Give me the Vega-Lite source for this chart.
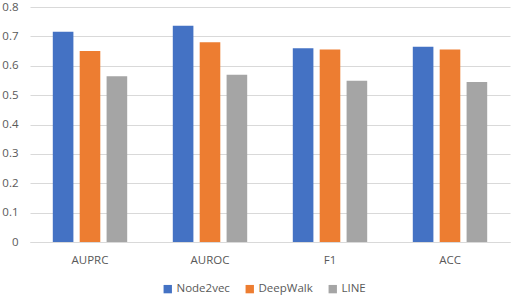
{
  "$schema": "https://vega.github.io/schema/vega-lite/v6.json",
  "autosize": "none",
  "width": 480,
  "height": 235,
  "padding": {"left": 30, "top": 7, "right": 2, "bottom": 56},
  "background": "white",
  "data": {
    "values": [
      {"metric": "AUPRC", "method": "Node2vec", "value": 0.716},
      {"metric": "AUPRC", "method": "DeepWalk", "value": 0.650},
      {"metric": "AUPRC", "method": "LINE", "value": 0.564},
      {"metric": "AUROC", "method": "Node2vec", "value": 0.736},
      {"metric": "AUROC", "method": "DeepWalk", "value": 0.680},
      {"metric": "AUROC", "method": "LINE", "value": 0.569},
      {"metric": "F1", "method": "Node2vec", "value": 0.660},
      {"metric": "F1", "method": "DeepWalk", "value": 0.655},
      {"metric": "F1", "method": "LINE", "value": 0.549},
      {"metric": "ACC", "method": "Node2vec", "value": 0.665},
      {"metric": "ACC", "method": "DeepWalk", "value": 0.655},
      {"metric": "ACC", "method": "LINE", "value": 0.545}
    ]
  },
  "mark": {"type": "bar"},
  "encoding": {
    "x": {
      "field": "metric", "type": "nominal",
      "sort": ["AUPRC", "AUROC", "F1", "ACC"],
      "scale": {"paddingInner": 0.38, "paddingOuter": 0.19},
      "axis": {"title": null, "labelAngle": 0, "ticks": false, "domainColor": "#d9d9d9", "labelColor": "#595959", "labelFont": "Open Sans", "labelFontSize": 11.5, "labelPadding": 12}
    },
    "xOffset": {
      "field": "method", "type": "nominal",
      "sort": ["Node2vec", "DeepWalk", "LINE"],
      "scale": {"paddingInner": 0.234, "paddingOuter": 0}
    },
    "y": {
      "field": "value", "type": "quantitative",
      "scale": {"domain": [0, 0.8]},
      "axis": {"title": null, "values": [0, 0.1, 0.2, 0.3, 0.4, 0.5, 0.6, 0.7, 0.8], "labelOverlap": false, "format": "~g", "domain": false, "ticks": false, "gridColor": "#d9d9d9", "labelColor": "#595959", "labelFont": "Open Sans", "labelFontSize": 11.5, "labelPadding": 12}
    },
    "color": {
      "field": "method", "type": "nominal",
      "sort": ["Node2vec", "DeepWalk", "LINE"],
      "scale": {"domain": ["Node2vec", "DeepWalk", "LINE"], "range": ["#4472C4", "#ED7D31", "#A5A5A5"]},
      "legend": {"title": null, "orient": "none", "legendX": 132, "legendY": 276, "direction": "horizontal", "symbolType": "square", "symbolSize": 70, "symbolStrokeWidth": 0, "labelColor": "#595959", "labelFont": "Open Sans", "labelFontSize": 11.5, "columnPadding": 14, "labelOffset": 3}
    }
  },
  "config": {"view": {"stroke": null}}
}
